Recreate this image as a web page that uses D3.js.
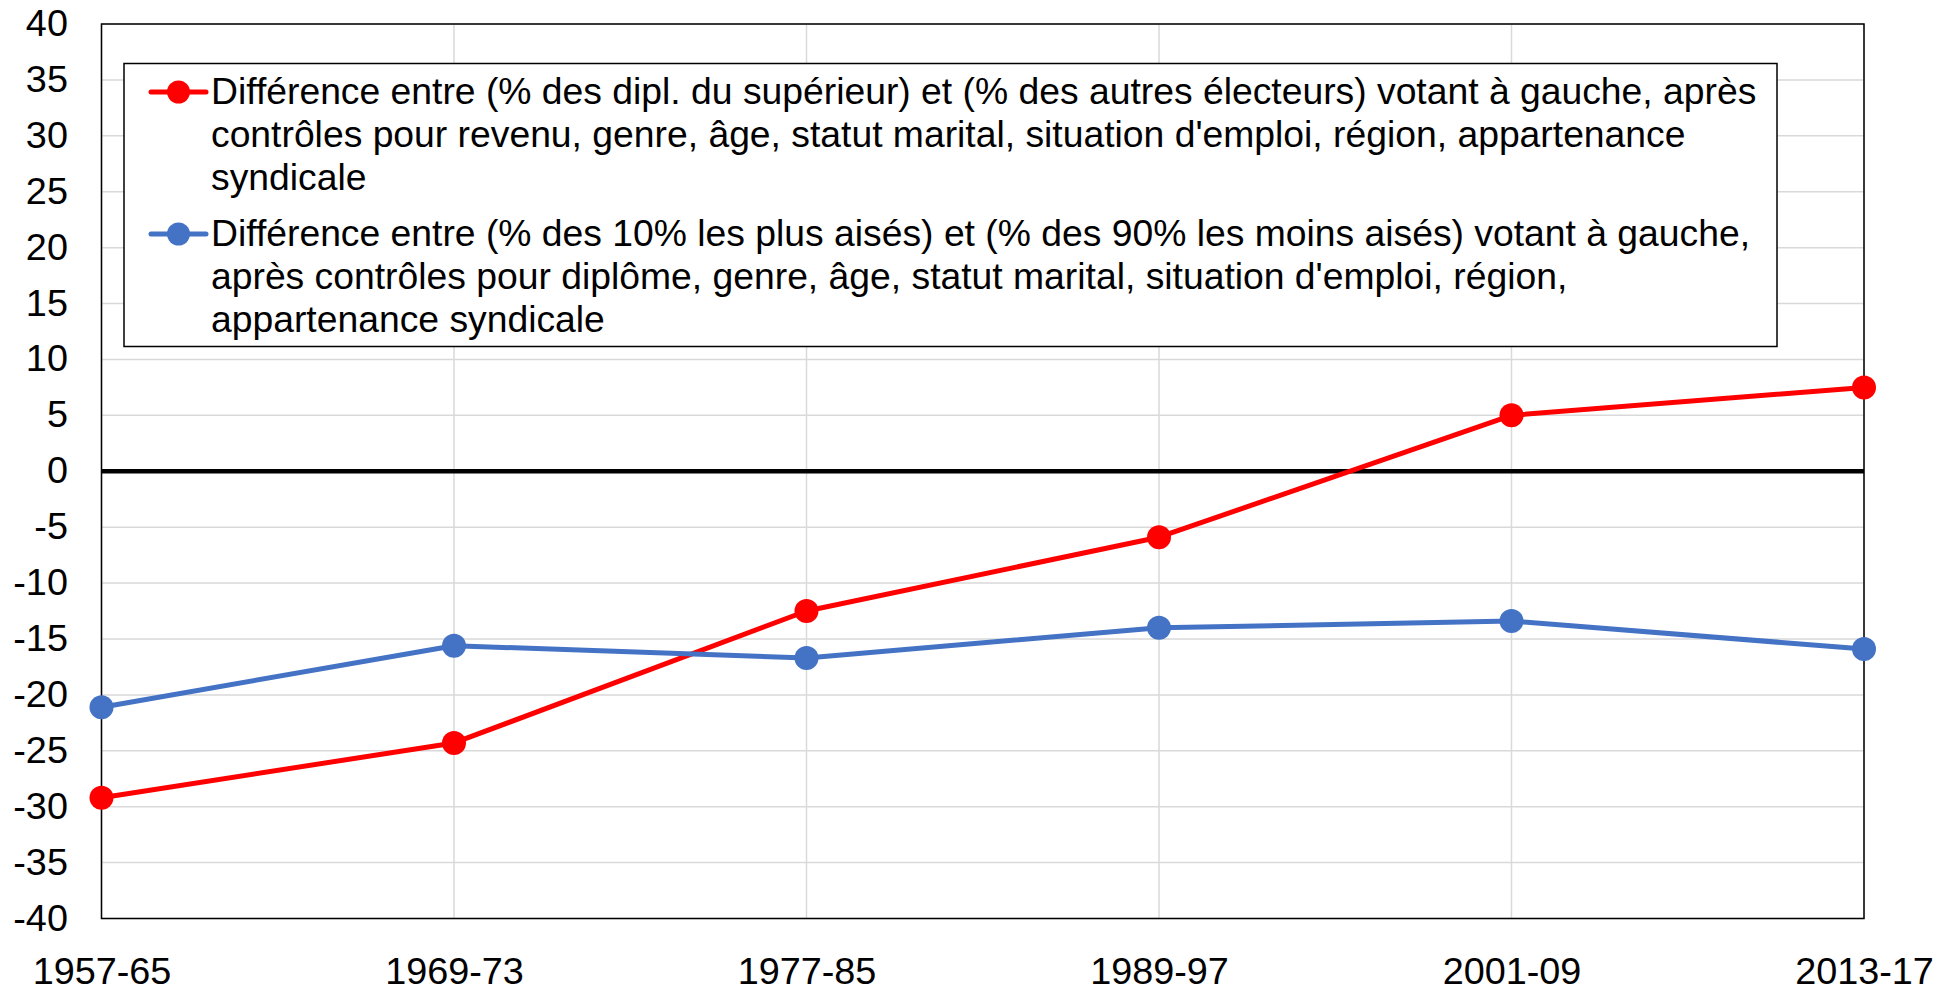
<!DOCTYPE html>
<html>
<head>
<meta charset="utf-8">
<script src="https://cdn.jsdelivr.net/npm/d3@7"></script>
<style>
  body { margin: 0; background: #fff; }
  svg { display: block; font-family: Arial, "Liberation Sans", sans-serif; }
</style>
</head>
<body>
<div id="chart"></div>
<script>
// data
var periods = ['1957-65', '1969-73', '1977-85', '1989-97', '2001-09', '2013-17']
var educValues = [-29.2, -24.3, -12.5, -5.9, 5.0, 7.5]
var incomeValues = [-21.1, -15.6, -16.7, -14.0, -13.4, -15.9]
var yTicks = d3.range(-40, 41, 5)

var educLabel = [
  'Différence entre (% des dipl. du supérieur) et (% des autres électeurs) votant à gauche, après',
  'contrôles pour revenu, genre, âge, statut marital, situation d\'emploi, région, appartenance',
  'syndicale'
]
var incomeLabel = [
  'Différence entre (% des 10% les plus aisés) et (% des 90% les moins aisés) votant à gauche,',
  'après contrôles pour diplôme, genre, âge, statut marital, situation d\'emploi, région,',
  'appartenance syndicale'
]

var series = [
  { name: 'educ', values: educValues, color: '#ff0000', label: educLabel },
  { name: 'income', values: incomeValues, color: '#4472c4', label: incomeLabel }
]

var width = 1953
var height = 991
var margin = { top: 24, right: 89, bottom: 72.5, left: 101.5 }
var innerW = width - margin.left - margin.right
var innerH = height - margin.top - margin.bottom
var fontSize = 36
var stretch = 1.05 // source text is a little wider than Liberation Sans

var svg = d3.select('#chart')
  .append('svg')
  .attr('width', width)
  .attr('height', height)

var g = svg.append('g')
  .attr('transform', 'translate(' + margin.left + ',' + margin.top + ')')

var x = d3.scalePoint().domain(periods).range([0, innerW]).padding(0)
var y = d3.scaleLinear().domain([-40, 40]).range([innerH, 0])

// horizontal gridlines
g.append('g')
  .selectAll('line')
  .data(yTicks.filter(function(d) { return d !== 0 }))
  .enter()
  .append('line')
  .attr('x1', 0)
  .attr('x2', innerW)
  .attr('y1', function(d) { return y(d) })
  .attr('y2', function(d) { return y(d) })
  .attr('stroke', '#d9d9d9')
  .attr('stroke-width', 1.5)

// vertical gridlines
g.append('g')
  .selectAll('line')
  .data(periods)
  .enter()
  .append('line')
  .attr('x1', function(d) { return x(d) })
  .attr('x2', function(d) { return x(d) })
  .attr('y1', 0)
  .attr('y2', innerH)
  .attr('stroke', '#d9d9d9')
  .attr('stroke-width', 1.5)

// frame
g.append('rect')
  .attr('width', innerW)
  .attr('height', innerH)
  .attr('fill', 'none')
  .attr('stroke', '#000')
  .attr('stroke-width', 1.5)

// zero line
g.append('line')
  .attr('x1', 0)
  .attr('x2', innerW)
  .attr('y1', y(0))
  .attr('y2', y(0))
  .attr('stroke', '#000')
  .attr('stroke-width', 4.5)

// y axis labels (plain hyphen, like the source)
var yAxis = d3.axisLeft(y)
  .tickValues(yTicks)
  .tickSize(0)
  .tickPadding(32)
  .tickFormat(function(d) { return String(d) })
g.append('g')
  .call(yAxis)
  .call(function(s) { s.select('.domain').remove() })
  .selectAll('text')
  .attr('font-size', fontSize)
  .attr('font-family', 'Arial, "Liberation Sans", sans-serif')
  .attr('fill', '#000')
  .attr('transform', 'scale(' + stretch + ',1)')

// x axis labels
var xAxis = d3.axisBottom(x).tickSize(0).tickPadding(40)
g.append('g')
  .attr('transform', 'translate(0,' + innerH + ')')
  .call(xAxis)
  .call(function(s) { s.select('.domain').remove() })
  .selectAll('text')
  .attr('font-size', fontSize)
  .attr('font-family', 'Arial, "Liberation Sans", sans-serif')
  .attr('fill', '#000')
  .attr('transform', 'scale(' + stretch + ',1)')

// lines and markers
var line = d3.line()
  .x(function(d, i) { return x(periods[i]) })
  .y(function(d) { return y(d) })

series.forEach(function(s) {
  g.append('path')
    .datum(s.values)
    .attr('d', line)
    .attr('fill', 'none')
    .attr('stroke', s.color)
    .attr('stroke-width', 5)
    .attr('stroke-linejoin', 'round')

  g.selectAll('.dot-' + s.name)
    .data(s.values)
    .enter()
    .append('circle')
    .attr('class', 'dot-' + s.name)
    .attr('cx', function(d, i) { return x(periods[i]) })
    .attr('cy', function(d) { return y(d) })
    .attr('r', 12)
    .attr('fill', s.color)
})

// legend
var legend = svg.append('g')
legend.append('rect')
  .attr('x', 124)
  .attr('y', 63.5)
  .attr('width', 1653)
  .attr('height', 283)
  .attr('fill', '#fff')
  .attr('stroke', '#000')
  .attr('stroke-width', 1.5)

var lineH = 43
var textX = 211
series.forEach(function(s, k) {
  var top = 104 + k * 142
  var ly = top - 12
  legend.append('line')
    .attr('x1', 151)
    .attr('x2', 206)
    .attr('y1', ly)
    .attr('y2', ly)
    .attr('stroke', s.color)
    .attr('stroke-width', 5)
    .attr('stroke-linecap', 'round')
  legend.append('circle')
    .attr('cx', 178.5)
    .attr('cy', ly)
    .attr('r', 11.5)
    .attr('fill', s.color)
  var t = legend.append('text')
    .attr('font-size', fontSize)
    .attr('fill', '#000')
    .attr('transform', 'translate(' + textX + ',0)scale(1.036,1)translate(' + -textX + ',0)')
  s.label.forEach(function(txt, i) {
    t.append('tspan')
      .attr('x', textX)
      .attr('y', top + i * lineH)
      .text(txt)
  })
})
</script>
</body>
</html>
